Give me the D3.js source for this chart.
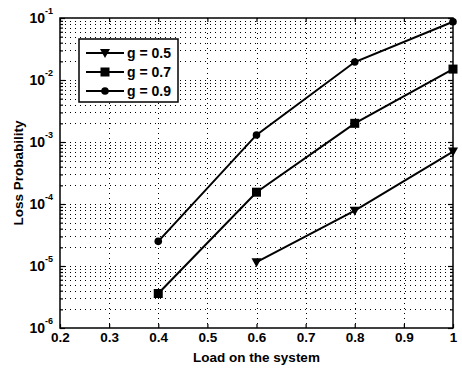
<!DOCTYPE html>
<html>
<head>
<meta charset="utf-8">
<script src="https://cdn.jsdelivr.net/npm/d3@7"></script>
<style>
  body { margin: 0; background: #fff; }
  svg { display: block; font-family: "Liberation Sans", Arial, sans-serif; font-weight: bold; }
</style>
</head>
<body>
<svg id="chart" width="462" height="370"></svg>
<script>
// data
const loads = [0.4, 0.6, 0.8, 1.0];
const g05 = [null, 1.15e-5, 7.8e-5, 7.0e-4];
const g07 = [3.6e-6, 1.55e-4, 2.0e-3, 1.5e-2];
const g09 = [2.5e-5, 1.3e-3, 1.95e-2, 8.7e-2];
const seriesNames = ["g = 0.5", "g = 0.7", "g = 0.9"];
const markers = ["triangle", "square", "circle"];
const xTicks = [0.2, 0.3, 0.4, 0.5, 0.6, 0.7, 0.8, 0.9, 1];
const yExps = [-1, -2, -3, -4, -5, -6];

let dimensions = {
    width: 462, height: 370,
    margin: { top: 18, bottom: 42, right: 9, left: 60 }
};

const svg = d3.select("#chart");
const pLeft = dimensions.margin.left;
const pRight = dimensions.width - dimensions.margin.right;
const pTop = dimensions.margin.top;
const pBottom = dimensions.height - dimensions.margin.bottom;

const x = d3.scaleLinear().domain([0.2, 1]).range([pLeft, pRight]);
const y = d3.scaleLog().domain([1e-6, 1e-1]).range([pBottom, pTop]);

// grid lines (dotted)
const grid = svg.append("g").attr("stroke", "#000").attr("stroke-width", 1)
    .attr("stroke-dasharray", "1,4");
grid.selectAll("line.gx")
    .data(xTicks.slice(1, -1))
    .join("line")
    .attr("x1", d => Math.round(x(d)) + 0.5).attr("x2", d => Math.round(x(d)) + 0.5)
    .attr("y1", pTop).attr("y2", pBottom);

let minorVals = [];
for (let e = -6; e < -1; e++) {
    for (let m = 1; m <= 9; m++) minorVals.push(m * Math.pow(10, e));
}
minorVals = minorVals.filter(v => v > 1e-6);
grid.selectAll("line.gy")
    .data(minorVals)
    .join("line")
    .attr("x1", pLeft).attr("x2", pRight)
    .attr("y1", d => Math.round(y(d)) + 0.5).attr("y2", d => Math.round(y(d)) + 0.5);

// axes: inside ticks on all sides
svg.append("g")
    .attr("transform", `translate(0,${pBottom})`)
    .call(d3.axisBottom(x).tickValues(xTicks).tickSize(-4).tickFormat(d => d === 1 ? "1" : d3.format(".1f")(d)))
    .call(g => g.selectAll("text").attr("y", 3).attr("dy", "0.85em"));
svg.append("g")
    .attr("transform", `translate(0,${pTop})`)
    .call(d3.axisTop(x).tickValues(xTicks).tickSize(-4).tickFormat(""));

const majorY = yExps.map(e => Math.pow(10, e));
const minorOnly = minorVals.filter(v => majorY.indexOf(v) < 0);
svg.append("g")
    .attr("transform", `translate(${pLeft},0)`)
    .call(d3.axisLeft(y).tickValues(majorY).tickSize(-5).tickFormat(""));
svg.append("g")
    .attr("transform", `translate(${pLeft},0)`)
    .call(d3.axisLeft(y).tickValues(minorOnly).tickSize(-3).tickFormat(""));
svg.append("g")
    .attr("transform", `translate(${pRight},0)`)
    .call(d3.axisRight(y).tickValues(majorY).tickSize(-5).tickFormat(""));
svg.append("g")
    .attr("transform", `translate(${pRight},0)`)
    .call(d3.axisRight(y).tickValues(minorOnly).tickSize(-3).tickFormat(""));

svg.selectAll(".domain").remove();
svg.selectAll(".tick line").attr("stroke-width", 1.2);
svg.selectAll(".tick text").attr("font-size", 13.5).attr("font-weight", "bold")
    .attr("font-family", "Liberation Sans, Arial, sans-serif").attr("fill", "#000");

// y tick labels 10^e
const yl = svg.append("g").attr("font-size", 14).attr("fill", "#000");
yl.selectAll("text.base")
    .data(yExps)
    .join("text")
    .attr("class", "base")
    .attr("x", 45).attr("y", d => y(Math.pow(10, d)) + 5)
    .attr("text-anchor", "end")
    .text("10");
yl.selectAll("text.exp")
    .data(yExps)
    .join("text")
    .attr("class", "exp")
    .attr("x", 45).attr("y", d => y(Math.pow(10, d)) - 4)
    .attr("font-size", 9)
    .text(d => String(d));

// plot box
svg.append("rect")
    .attr("x", pLeft).attr("y", pTop)
    .attr("width", pRight - pLeft).attr("height", pBottom - pTop)
    .attr("fill", "none").attr("stroke", "#000").attr("stroke-width", 1.5);

// series
const allSeries = [g05, g07, g09];
const line = d3.line()
    .defined(d => d[1] != null)
    .x(d => x(d[0])).y(d => y(d[1]));

function drawMarker(sel, type) {
    if (type === "triangle") {
        sel.append("path").attr("d", "M-5,-4L5,-4L0,5Z");
    } else if (type === "square") {
        sel.append("rect").attr("x", -4.5).attr("y", -4.5).attr("width", 9).attr("height", 9);
    } else {
        sel.append("circle").attr("r", 3.8);
    }
}

allSeries.forEach((vals, i) => {
    const pts = loads.map((l, j) => [l, vals[j]]);
    svg.append("path")
        .datum(pts)
        .attr("fill", "none").attr("stroke", "#000").attr("stroke-width", 2)
        .attr("d", line);
    pts.filter(p => p[1] != null).forEach(p => {
        const g = svg.append("g").attr("transform", `translate(${x(p[0])},${y(p[1])})`).attr("fill", "#000");
        drawMarker(g, markers[i]);
    });
});

// legend
const legend = svg.append("g").attr("transform", "translate(79,39)");
legend.append("rect")
    .attr("width", 99).attr("height", 63)
    .attr("fill", "#fff").attr("stroke", "#000").attr("stroke-width", 1.5);
seriesNames.forEach((name, i) => {
    const row = legend.append("g").attr("transform", `translate(0,${14 + i * 19})`);
    row.append("line").attr("x1", 7).attr("x2", 45).attr("stroke", "#000").attr("stroke-width", 2);
    const m = row.append("g").attr("transform", "translate(26,0)").attr("fill", "#000");
    drawMarker(m, markers[i]);
    row.append("text").attr("x", 48).attr("y", 5).attr("font-size", 14).text(name);
});

// axis labels
svg.append("text")
    .attr("x", (pLeft + pRight) / 2).attr("y", 362)
    .attr("text-anchor", "middle").attr("font-size", 13.5)
    .text("Load on the system");
svg.append("text")
    .attr("transform", `translate(23,${(pTop + pBottom) / 2}) rotate(-90)`)
    .attr("text-anchor", "middle").attr("font-size", 13.5)
    .text("Loss Probability");
</script>
</body>
</html>
